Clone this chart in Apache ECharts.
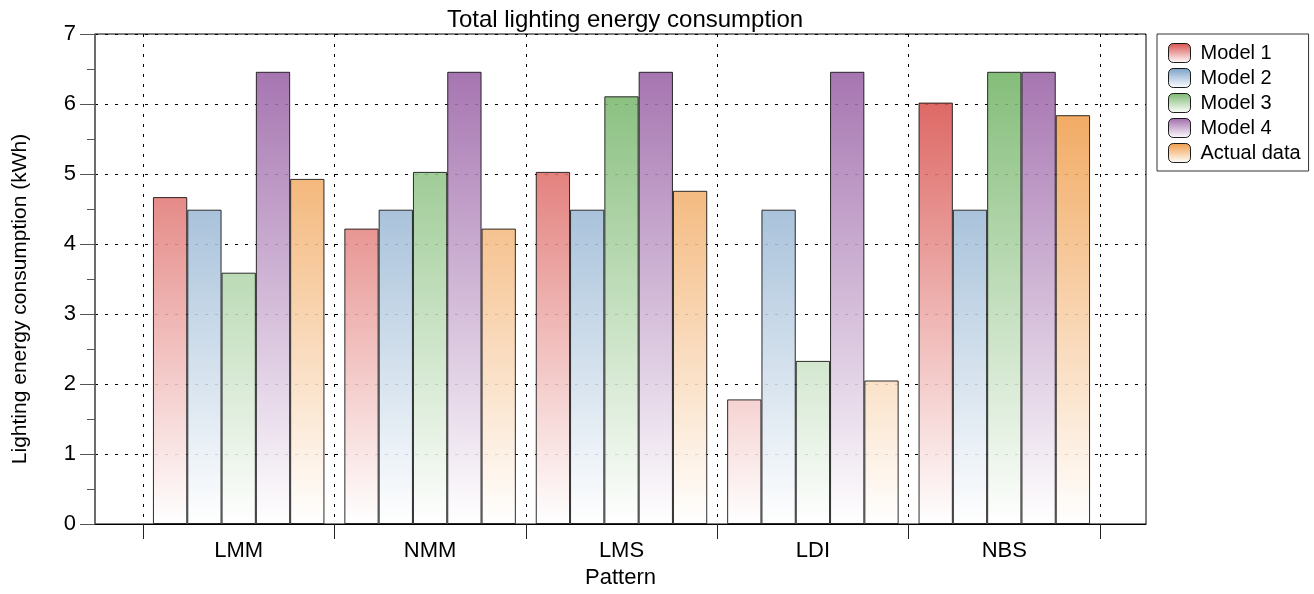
<!DOCTYPE html>
<html>
<head>
<meta charset="utf-8">
<script src="https://cdn.jsdelivr.net/npm/echarts@6/dist/echarts.min.js"></script>
<style>
html,body{margin:0;padding:0;background:#fff;}
#chart{width:1314px;height:594px;}
</style>
</head>
<body>
<div id="chart"></div>
<script>
const categories = ['LMM', 'NMM', 'LMS', 'LDI', 'NBS'];
const seriesNames = ['Model 1', 'Model 2', 'Model 3', 'Model 4', 'Actual data'];
const model1 = [4.67, 4.22, 5.03, 1.78, 6.02];
const model2 = [4.49, 4.49, 4.49, 4.49, 4.49];
const model3 = [3.59, 5.03, 6.11, 2.33, 6.46];
const model4 = [6.46, 6.46, 6.46, 6.46, 6.46];
const actualData = [4.93, 4.22, 4.76, 2.05, 5.84];
const baseColors = ['#d33934', '#6794bf', '#68ae5b', '#92569f', '#ed8d2d'];
const yMin = 0, yMax = 7, yStep = 1;

const FONT = "'Liberation Sans', Arial, sans-serif";
const chart = echarts.init(document.getElementById('chart'), null, {renderer: 'canvas'});

const PLOT_TOP = 34, PLOT_BOTTOM = 524;
function globalGrad(c) {
  return new echarts.graphic.LinearGradient(0, PLOT_TOP, 0, PLOT_BOTTOM, [
    {offset: 0, color: c}, {offset: 1, color: '#ffffff'}
  ], true);
}
function localGrad(c) {
  return new echarts.graphic.LinearGradient(0, 0, 0, 1, [
    {offset: 0, color: c}, {offset: 1, color: '#ffffff'}
  ]);
}
const allValues = [model1, model2, model3, model4, actualData];
const dotted = {color: '#000', width: 1, type: [3, 7]};

const option = {
  backgroundColor: '#fff',
  animation: false,
  title: {
    text: 'Total lighting energy consumption',
    left: 620, top: 3, textAlign: 'center',
    textStyle: {fontFamily: FONT, fontSize: 24, fontWeight: 'normal', color: '#000'}
  },
  graphic: [{
    type: 'text', x: 20, y: 299, rotation: Math.PI / 2,
    style: {text: 'Lighting energy consumption (kWh)', fontFamily: FONT, fontSize: 21,
            fill: '#000', align: 'center', verticalAlign: 'middle'}
  }],
  legend: {
    orient: 'vertical', left: 1157, top: 34,
    padding: [9, 8, 8, 11],
    itemWidth: 22, itemHeight: 19, itemGap: 5,
    borderColor: '#333', borderWidth: 1,
    icon: 'roundRect',
    textStyle: {fontFamily: FONT, fontSize: 20, color: '#000', padding: [0, 0, 0, 5]},
    data: seriesNames.map((n, i) => ({
      name: n,
      itemStyle: {color: localGrad(baseColors[i]), borderColor: '#000', borderWidth: 1}
    }))
  },
  grid: [
    {left: 95, right: 168, top: PLOT_TOP, bottom: 594 - PLOT_BOTTOM, show: true,
     borderColor: '#000', borderWidth: 1, backgroundColor: 'transparent'},
    {left: 143, right: 214, top: PLOT_TOP, bottom: 594 - PLOT_BOTTOM}
  ],
  xAxis: [
    {type: 'value', gridIndex: 0, min: 0, max: 1, show: true,
     axisLine: {show: true, lineStyle: {color: '#000'}},
     axisTick: {show: false}, axisLabel: {show: false}, splitLine: {show: false},
     name: 'Pattern', nameLocation: 'middle', nameGap: 43,
     nameTextStyle: {fontFamily: FONT, fontSize: 22, color: '#000'}},
    {type: 'category', gridIndex: 1, data: categories, boundaryGap: true,
     axisLine: {show: true, lineStyle: {color: '#000'}},
     axisTick: {show: true, length: 15, inside: false, lineStyle: {color: '#222'}},
     axisLabel: {fontFamily: FONT, fontSize: 22, color: '#000', margin: 16},
     splitLine: {show: true, lineStyle: dotted}}
  ],
  yAxis: [
    {type: 'value', gridIndex: 0, min: yMin, max: yMax, interval: yStep,
     axisLine: {show: true, lineStyle: {color: '#666', width: 1.5}},
     axisTick: {show: true, length: 15, inside: false, lineStyle: {color: '#555'}},
     minorTick: {show: true, splitNumber: 2, length: 8, lineStyle: {color: '#555'}},
     axisLabel: {fontFamily: FONT, fontSize: 22, color: '#000', margin: 19},
     splitLine: {show: true, lineStyle: dotted}},
    {type: 'value', gridIndex: 1, min: yMin, max: yMax, interval: yStep, show: false,
     splitLine: {show: false}}
  ],
  series: seriesNames.map((n, i) => ({
    name: n, type: 'bar', xAxisIndex: 1, yAxisIndex: 1,
    data: allValues[i],
    barGap: '0%', barCategoryGap: '10.4%',
    itemStyle: {color: globalGrad(baseColors[i]), borderColor: '#111', borderWidth: 1, opacity: 0.88},
    emphasis: {disabled: true}
  }))
};
chart.setOption(option);
</script>
</body>
</html>
